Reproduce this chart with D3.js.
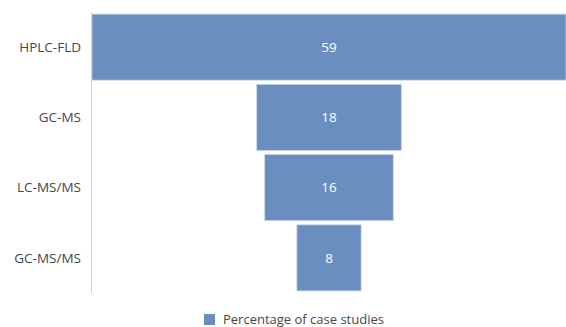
<!DOCTYPE html>
<html>
<head>
<meta charset="utf-8">
<script src="https://cdn.jsdelivr.net/npm/d3@7"></script>
<style>
  body { margin: 0; background: #fff; }
  text { font-family: "Open Sans", "Liberation Sans", sans-serif; }
</style>
</head>
<body>
<div id="chart"></div>
<script>
const methods = ["HPLC-FLD", "GC-MS", "LC-MS/MS", "GC-MS/MS"];
const percentages = [59, 18, 16, 8];
const seriesName = "Percentage of case studies";

const W = 566, H = 327;
const barColor = "#6a8ebf";

const svg = d3.select("#chart").append("svg")
    .attr("width", W)
    .attr("height", H);

const maxVal = d3.max(percentages);

const x = d3.scaleLinear()
    .domain([0, maxVal])
    .range([92, 566]);

const y = d3.scaleBand()
    .domain(methods)
    .range([12, 293])
    .paddingInner(0.06)
    .paddingOuter(0.03);

// left axis line
svg.append("line")
    .attr("x1", 91.5).attr("x2", 91.5)
    .attr("y1", 12).attr("y2", 293)
    .attr("stroke", "#d9d2cc")
    .attr("stroke-width", 1);

const data = methods.map((m, i) => ({ name: m, value: percentages[i] }));

// funnel: each bar is centred by an invisible offset of (max - v) / 2
svg.selectAll("rect.bar")
    .data(data)
    .enter()
    .append("rect")
    .attr("class", "bar")
    .attr("x", d => x((maxVal - d.value) / 2))
    .attr("width", d => x(d.value) - x(0))
    .attr("y", d => y(d.name))
    .attr("height", y.bandwidth())
    .attr("fill", barColor)
    .attr("stroke", "#c6d5ea")
    .attr("stroke-width", 0.8);

svg.selectAll("text.val")
    .data(data)
    .enter()
    .append("text")
    .attr("class", "val")
    .attr("x", x(maxVal / 2))
    .attr("y", d => y(d.name) + y.bandwidth() / 2)
    .attr("dy", "0.35em")
    .attr("text-anchor", "middle")
    .attr("fill", "#ffffff")
    .style("font-size", "13.5px")
    .text(d => d.value);

svg.selectAll("text.cat")
    .data(data)
    .enter()
    .append("text")
    .attr("class", "cat")
    .attr("x", 81)
    .attr("y", d => y(d.name) + y.bandwidth() / 2)
    .attr("dy", "0.35em")
    .attr("text-anchor", "end")
    .attr("fill", "#474747")
    .style("font-size", "13.5px")
    .text(d => d.name);

// legend
const legend = svg.append("g").attr("transform", "translate(204,314)");
legend.append("rect")
    .attr("width", 11).attr("height", 11)
    .attr("fill", barColor);
legend.append("text")
    .attr("x", 19)
    .attr("y", 10)
    .attr("fill", "#474747")
    .style("font-size", "13px")
    .text(seriesName);
</script>
</body>
</html>
